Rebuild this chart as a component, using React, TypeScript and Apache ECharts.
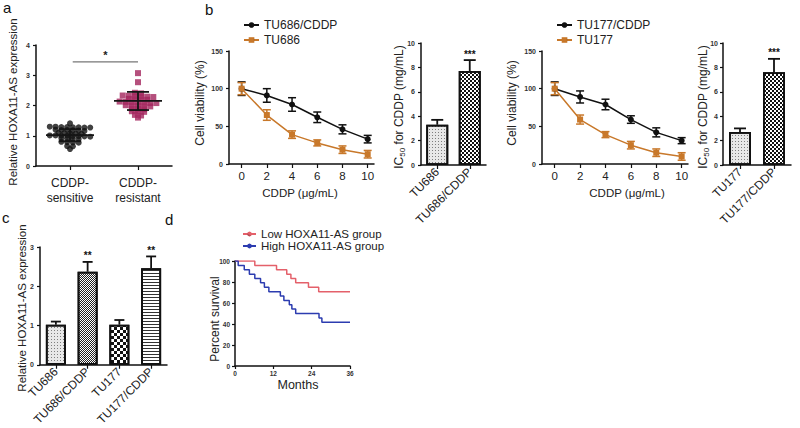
import React, { useEffect, useRef } from 'react';
import * as echarts from 'echarts';

const FONT = '"Liberation Sans", Arial, Helvetica, sans-serif';

// ---------- Panel a ----------
const groupLabels = ['CDDP-\nsensitive', 'CDDP-\nresistant'];
const sensitiveValues = [
  1.41,
  1.30, 1.30, 1.29, 1.29, 1.28, 1.28, 1.27, 1.27,
  1.20, 1.19, 1.19, 1.18, 1.17, 1.16,
  1.10, 1.09, 1.08, 1.07, 1.06,
  1.01, 1.01, 1.00, 1.00, 0.99, 0.99, 0.98, 0.97,
  0.92, 0.91, 0.90, 0.89,
  0.80, 0.79, 0.78, 0.77,
  0.66, 0.65,
  0.56,
];
const resistantValues = [
  3.07,
  2.77,
  2.42, 2.40,
  2.33, 2.32, 2.31, 2.30, 2.29, 2.28,
  2.22, 2.21, 2.20, 2.19,
  2.13, 2.12, 2.11, 2.10, 2.09, 2.08, 2.08,
  2.01, 2.00, 1.99, 1.98, 1.97,
  1.90, 1.89, 1.88,
  1.81, 1.80, 1.79,
  1.69, 1.67,
  1.60,
];
const groupMeans = [1.02, 2.15];
const groupSDs = [0.2, 0.3];

// ---------- Panel b ----------
const doses = [0, 2, 4, 6, 8, 10];
const tu686CddpViability = [100, 91, 79, 62, 46, 33];
const tu686CddpErr = [9, 9, 9, 7, 6, 5];
const tu686Viability = [100, 65, 39, 28, 19, 13];
const tu686Err = [8, 7, 5, 4, 5, 5];
const tu177CddpViability = [100, 89, 79, 59, 42, 31];
const tu177CddpErr = [9, 8, 7, 5, 6, 4];
const tu177Viability = [100, 59, 39, 25, 15, 10];
const tu177Err = [8, 6, 4, 5, 5, 5];

const ic50Cats686 = ['TU686', 'TU686/CDDP'];
const ic50Values686 = [3.3, 7.7];
const ic50Err686 = [0.4, 0.9];
const ic50Sig686 = ['', '***'];
const ic50Cats177 = ['TU177', 'TU177/CDDP'];
const ic50Values177 = [2.7, 7.6];
const ic50Err177 = [0.3, 1.1];
const ic50Sig177 = ['', '***'];

// ---------- Panel c ----------
const cellLines = ['TU686', 'TU686/CDDP', 'TU177', 'TU177/CDDP'];
const expression = [1.02, 2.37, 1.02, 2.46];
const expressionErr = [0.08, 0.25, 0.12, 0.3];
const expressionSig = ['', '**', '', '**'];

// ---------- Panel d ----------
const lowTimes = [0, 6.2, 13, 16.2, 17.5, 19, 23, 26.2, 36];
const lowSurvival = [100, 95.8, 91.7, 87.5, 83.3, 79.2, 75, 70.8, 70.8];
const highTimes = [0, 1, 2.9, 4.5, 6.2, 8, 9.2, 10.6, 14.2, 15.3, 17, 17.8, 19, 26.3, 27.2, 36];
const highSurvival = [100, 95.8, 91.7, 87.5, 83.3, 79.2, 75, 70.8, 66.7, 62.5, 58.3, 54.2, 50, 45.8, 41.7, 41.7];

// ---------- styles ----------
const BLACK = '#111';
const ORANGE = '#c8782a';
const MAROON = '#a3245c';
const RED = '#e4606a';
const BLUE = '#2c3cb0';

const pattern = {
  dotted: {
    color: '#e8e8e8',
    decal: { symbol: 'rect', symbolSize: 1, color: 'rgba(0,0,0,0.45)', dashArrayX: [1, 2], dashArrayY: [1, 2] },
  },
  checker: {
    color: '#ffffff',
    decal: { symbol: 'rect', symbolSize: 1, color: '#111', dashArrayX: [[2, 2], [0, 2, 2, 0]], dashArrayY: [2, 0] },
  },
  fineChecker: {
    color: '#ffffff',
    decal: { symbol: 'rect', symbolSize: 1, color: '#222', dashArrayX: [[1, 1], [0, 1, 1, 0]], dashArrayY: [1, 0] },
  },
  coarseChecker: {
    color: '#ffffff',
    decal: { symbol: 'rect', symbolSize: 1, color: '#111', dashArrayX: [[3, 3], [0, 3, 3, 0]], dashArrayY: [3, 0] },
  },
  stripes: {
    color: '#ffffff',
    decal: { symbol: 'rect', symbolSize: 1, color: '#333', dashArrayX: [1, 0], dashArrayY: [1, 2] },
  },
};

function swarm(values: number[], center: number, step: number, tol: number) {
  const sorted = [...values].sort((a, b) => b - a);
  const rows: number[][] = [];
  for (const v of sorted) {
    const last = rows[rows.length - 1];
    if (last && last[0] - v < tol) last.push(v);
    else rows.push([v]);
  }
  const out: number[][] = [];
  rows.forEach((r) => r.forEach((v, i) => out.push([center + (i - (r.length - 1) / 2) * step, v])));
  return out;
}

function errorSeries(
  xs: (number)[], ys: number[], es: number[], color: string,
  xAxisIndex: number, yAxisIndex: number, capPx: number, both: boolean,
  sig?: string[], sigSize = 10, lw = 1.5,
) {
  return {
    type: 'custom',
    xAxisIndex, yAxisIndex, z: 4, silent: true,
    data: xs.map((x, i) => [x, ys[i], es[i]]),
    renderItem: (params: any, api: any) => {
      const x = api.value(0), m = api.value(1), e = api.value(2);
      const t = api.coord([x, m + e]);
      const b = api.coord([x, both ? m - e : m]);
      const st = { stroke: color, lineWidth: lw };
      const children: any[] = [
        { type: 'line', shape: { x1: t[0], y1: t[1], x2: b[0], y2: b[1] }, style: st },
        { type: 'line', shape: { x1: t[0] - capPx, y1: t[1], x2: t[0] + capPx, y2: t[1] }, style: st },
      ];
      if (both) children.push({ type: 'line', shape: { x1: b[0] - capPx, y1: b[1], x2: b[0] + capPx, y2: b[1] }, style: st });
      const s = sig ? sig[params.dataIndex] : '';
      if (s) {
        children.push({
          type: 'text', x: t[0], y: t[1] - 1,
          style: { text: s, fill: '#111', fontSize: sigSize, fontWeight: 'bold', fontFamily: FONT, textAlign: 'center', textVerticalAlign: 'bottom' },
        });
      }
      return { type: 'group', children };
    },
  };
}

const axisLineStyle = { color: '#111', width: 1.5 };
const tickStyle = { color: '#111', width: 1.2 };

function yAx(gridIndex: number, max: number, interval: number, margin = 5, fontSize = 7) {
  return {
    type: 'value', gridIndex, min: 0, max, interval,
    axisLine: { show: true, onZero: false, lineStyle: axisLineStyle },
    axisTick: { show: true, length: 3, lineStyle: tickStyle },
    axisLabel: { fontSize, fontWeight: 'bold', color: '#333', margin, fontFamily: FONT },
    splitLine: { show: false },
  };
}

function catAx(gridIndex: number, data: string[], rotate: number, fontSize = 12, margin = 5, lineHeight?: number) {
  return {
    type: 'category', gridIndex, data,
    axisLine: { show: true, onZero: false, lineStyle: axisLineStyle },
    axisTick: { show: true, alignWithLabel: true, length: 4, lineStyle: tickStyle },
    axisLabel: { rotate, fontSize, color: '#222', margin, fontFamily: FONT, interval: 0, lineHeight },
    splitLine: { show: false },
  };
}

function doseAx(gridIndex: number) {
  return {
    type: 'value', gridIndex, min: -1, max: 10.5,
    axisLine: { show: true, onZero: false, lineStyle: axisLineStyle },
    axisTick: { show: true, length: 4, customValues: doses, lineStyle: tickStyle },
    axisLabel: { customValues: doses, fontSize: 11.5, color: '#222', margin: 6, fontFamily: FONT },
    splitLine: { show: false },
  };
}

function lineSeries(name: string, ys: number[], color: string, symbol: string, xAxisIndex: number, yAxisIndex: number) {
  return {
    type: 'line', name, xAxisIndex, yAxisIndex, z: 5, silent: true,
    data: doses.map((d, i) => [d, ys[i]]),
    symbol, symbolSize: 6, showSymbol: true,
    lineStyle: { color, width: 1.5 },
    itemStyle: { color, borderWidth: 0 },
  };
}

function barSeries(values: number[], patterns: any[], xAxisIndex: number, yAxisIndex: number, barWidth: number) {
  return {
    type: 'bar', xAxisIndex, yAxisIndex, barWidth, silent: true,
    data: values.map((v, i) => ({
      value: v,
      itemStyle: { color: patterns[i].color, decal: patterns[i].decal, borderColor: '#111', borderWidth: 1.8 },
    })),
  };
}

function vText(text: string, x: number, y: number, fontSize: number, rich?: any) {
  return {
    type: 'text', x, y, rotation: Math.PI / 2, silent: true,
    style: { text, fill: '#222', fontSize, fontFamily: FONT, textAlign: 'center', textVerticalAlign: 'middle', rich },
  };
}
function hText(text: string, x: number, y: number, fontSize: number) {
  return {
    type: 'text', x, y, silent: true,
    style: { text, fill: '#222', fontSize, fontFamily: FONT, textAlign: 'center', textVerticalAlign: 'middle' },
  };
}

function buildOption(): any {
  const icRich = { sub: { fontSize: 8, verticalAlign: 'bottom', fontFamily: FONT, fill: '#222', padding: [6, 0, 0, 0] } };
  return {
    animation: false,
    aria: { enabled: true, decal: { show: true } },
    textStyle: { fontFamily: FONT },
    grid: [
      { left: 36, top: 45, width: 136, height: 121 },
      { left: 229, top: 51, width: 145, height: 113 },
      { left: 421, top: 43, width: 65, height: 122 },
      { left: 542, top: 51, width: 146, height: 113 },
      { left: 723, top: 43, width: 68, height: 122 },
      { left: 40, top: 247, width: 127, height: 121 },
      { left: 235, top: 261, width: 115, height: 105 },
    ],
    xAxis: [
      catAx(0, groupLabels, 0, 12, 9, 15),
      { type: 'value', gridIndex: 0, min: 0, max: 2, show: false },
      doseAx(1),
      catAx(2, ic50Cats686, 45, 12, 5),
      doseAx(3),
      catAx(4, ic50Cats177, 45, 12, 5),
      catAx(5, cellLines, 45, 12, 5),
      {
        type: 'value', gridIndex: 6, min: 0, max: 36, interval: 12,
        axisLine: { show: true, onZero: false, lineStyle: axisLineStyle },
        axisTick: { show: true, length: 3, lineStyle: tickStyle },
        axisLabel: { fontSize: 6.5, fontWeight: 'bold', color: '#333', margin: 4, fontFamily: FONT },
        splitLine: { show: false },
      },
    ],
    yAxis: [
      yAx(0, 4, 1, 6),
      yAx(1, 150, 50, 6),
      yAx(2, 10, 2, 6),
      yAx(3, 150, 50, 6),
      yAx(4, 10, 2, 5),
      yAx(5, 3, 1, 6),
      yAx(6, 100, 20, 5, 6.5),
    ],
    legend: [
      {
        data: ['TU686/CDDP', 'TU686'], orient: 'vertical', left: 238, top: 14,
        itemWidth: 15, itemHeight: 7, itemGap: 3, selectedMode: false,
        textStyle: { fontSize: 12, color: '#222', fontFamily: FONT },
      },
      {
        data: ['TU177/CDDP', 'TU177'], orient: 'vertical', left: 551, top: 14,
        itemWidth: 15, itemHeight: 7, itemGap: 3, selectedMode: false,
        textStyle: { fontSize: 12, color: '#222', fontFamily: FONT },
      },
      {
        data: ['Low HOXA11-AS group', 'High HOXA11-AS group'], orient: 'vertical', left: 237, top: 223,
        itemWidth: 13, itemHeight: 6, itemGap: 0, selectedMode: false,
        textStyle: { fontSize: 11.5, lineHeight: 12, color: '#222', fontFamily: FONT },
      },
    ],
    series: [
      // Panel a
      {
        type: 'scatter', xAxisIndex: 1, yAxisIndex: 0, silent: true,
        data: swarm(sensitiveValues, 0.5, 0.085, 0.06),
        symbol: 'circle', symbolSize: 6, itemStyle: { color: '#111' },
      },
      {
        type: 'scatter', xAxisIndex: 1, yAxisIndex: 0, silent: true,
        data: swarm(resistantValues, 1.5, 0.09, 0.06),
        symbol: 'rect', symbolSize: 6, itemStyle: { color: MAROON },
      },
      {
        type: 'custom', xAxisIndex: 1, yAxisIndex: 0, z: 6, silent: true,
        data: groupMeans.map((m, i) => [i + 0.5, m, groupSDs[i]]),
        renderItem: (params: any, api: any) => {
          const x = api.value(0), m = api.value(1), e = api.value(2);
          const c = api.coord([x, m]);
          const t = api.coord([x, m + e]);
          const b = api.coord([x, m - e]);
          const st = { stroke: '#151515', lineWidth: 1.8 };
          return {
            type: 'group', children: [
              { type: 'line', shape: { x1: c[0] - 24, y1: c[1], x2: c[0] + 24, y2: c[1] }, style: st },
              { type: 'line', shape: { x1: t[0], y1: t[1], x2: b[0], y2: b[1] }, style: st },
              { type: 'line', shape: { x1: t[0] - 11, y1: t[1], x2: t[0] + 11, y2: t[1] }, style: st },
              { type: 'line', shape: { x1: b[0] - 11, y1: b[1], x2: b[0] + 11, y2: b[1] }, style: st },
            ],
          };
        },
      },
      {
        type: 'custom', xAxisIndex: 1, yAxisIndex: 0, silent: true,
        data: [[0.54, 1.5, 3.44]],
        renderItem: (params: any, api: any) => {
          const p1 = api.coord([api.value(0), api.value(2)]);
          const p2 = api.coord([api.value(1), api.value(2)]);
          return {
            type: 'group', children: [
              { type: 'line', shape: { x1: p1[0], y1: p1[1], x2: p2[0], y2: p2[1] }, style: { stroke: '#777', lineWidth: 1.2 } },
              {
                type: 'text', x: (p1[0] + p2[0]) / 2, y: p1[1] - 1,
                style: { text: '*', fontSize: 11, fontWeight: 'bold', fill: '#222', fontFamily: FONT, textAlign: 'center', textVerticalAlign: 'bottom' },
              },
            ],
          };
        },
      },
      // Panel b, line chart 1
      errorSeries(doses, tu686CddpViability, tu686CddpErr, BLACK, 2, 1, 4, true),
      errorSeries(doses, tu686Viability, tu686Err, ORANGE, 2, 1, 4, true),
      lineSeries('TU686/CDDP', tu686CddpViability, BLACK, 'circle', 2, 1),
      lineSeries('TU686', tu686Viability, ORANGE, 'rect', 2, 1),
      // IC50 1
      barSeries(ic50Values686, [pattern.dotted, pattern.checker], 3, 2, 22),
      errorSeries([0, 1], ic50Values686, ic50Err686, '#111', 3, 2, 6, false, ic50Sig686, 10, 1.8),
      // Panel b, line chart 2
      errorSeries(doses, tu177CddpViability, tu177CddpErr, BLACK, 4, 3, 4, true),
      errorSeries(doses, tu177Viability, tu177Err, ORANGE, 4, 3, 4, true),
      lineSeries('TU177/CDDP', tu177CddpViability, BLACK, 'circle', 4, 3),
      lineSeries('TU177', tu177Viability, ORANGE, 'rect', 4, 3),
      // IC50 2
      barSeries(ic50Values177, [pattern.dotted, pattern.checker], 5, 4, 22),
      errorSeries([0, 1], ic50Values177, ic50Err177, '#111', 5, 4, 6, false, ic50Sig177, 10, 1.8),
      // Panel c
      barSeries(expression, [pattern.dotted, pattern.fineChecker, pattern.coarseChecker, pattern.stripes], 6, 5, 20),
      errorSeries([0, 1, 2, 3], expression, expressionErr, '#111', 6, 5, 5, false, expressionSig, 10, 1.8),
      // Panel d
      {
        type: 'line', name: 'Low HOXA11-AS group', xAxisIndex: 7, yAxisIndex: 6, silent: true,
        step: 'end', symbol: 'none', data: lowTimes.map((t, i) => [t, lowSurvival[i]]),
        lineStyle: { color: RED, width: 1.5 }, itemStyle: { color: RED },
      },
      {
        type: 'line', name: 'High HOXA11-AS group', xAxisIndex: 7, yAxisIndex: 6, silent: true,
        step: 'end', symbol: 'none', data: highTimes.map((t, i) => [t, highSurvival[i]]),
        lineStyle: { color: BLUE, width: 1.5 }, itemStyle: { color: BLUE },
      },
    ],
    graphic: [
      // panel letters
      { type: 'text', x: 3, y: 7, style: { text: 'a', fontSize: 15, fill: '#111', fontFamily: FONT, textVerticalAlign: 'middle' } },
      { type: 'text', x: 205, y: 9, style: { text: 'b', fontSize: 15, fill: '#111', fontFamily: FONT, textVerticalAlign: 'middle' } },
      { type: 'text', x: 2, y: 217, style: { text: 'c', fontSize: 15, fill: '#111', fontFamily: FONT, textVerticalAlign: 'middle' } },
      { type: 'text', x: 165, y: 219, style: { text: 'd', fontSize: 15, fill: '#111', fontFamily: FONT, textVerticalAlign: 'middle' } },
      // axis titles
      vText('Relative HOXA11-AS expression', 13, 102, 11.5),
      vText('Cell viability (%)', 200, 103, 12),
      hText('CDDP (μg/mL)', 300, 193, 11.5),
      vText('IC{sub|50} for CDDP (mg/mL)', 399, 107, 12, icRich),
      vText('Cell viability (%)', 512, 103, 12),
      hText('CDDP (μg/mL)', 627, 193, 11.5),
      vText('IC{sub|50} for CDDP (mg/mL)', 703, 107, 12, icRich),
      vText('Relative HOXA11-AS expression', 22, 308, 11.5),
      vText('Percent survival', 215, 319, 12),
      hText('Months', 298, 385, 12.5),
    ],
  };
}

export default function App() {
  const ref = useRef<HTMLDivElement>(null);
  useEffect(() => {
    document.body.style.margin = '0';
    const chart = echarts.init(ref.current!, null, { renderer: 'svg' });
    chart.setOption(buildOption());
    return () => chart.dispose();
  }, []);
  return <div ref={ref} style={{ width: 800, height: 428, background: '#fff' }} />;
}
